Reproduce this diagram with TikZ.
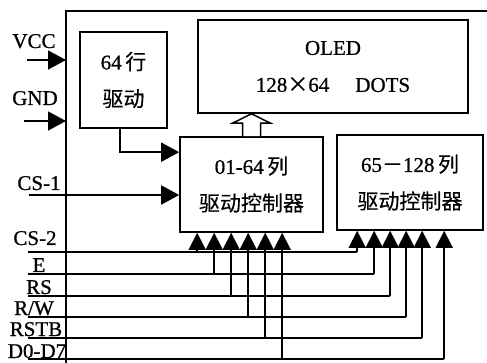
\documentclass[tikz,border=0pt]{standalone}
\usepackage{fontspec}
\setmainfont{Liberation Serif}[FakeBold=0.8]
\newfontfamily\cjk{Noto Sans CJK SC}[FakeBold=0.4]
\usetikzlibrary{arrows.meta,calc}
\begin{document}
\begin{tikzpicture}[x=1pt,y=-1pt,line width=1.6pt,
  box/.style={draw,rectangle,inner sep=0pt,align=center,font=\fontsize{21}{37}\selectfont},
  lbl/.style={inner sep=0pt,anchor=base,font=\fontsize{21}{24}\selectfont},
  arr/.style={-{Triangle[length=18pt,width=19pt]}},
  tap/.style={-{Triangle[length=17pt,width=17pt]}},
  hollow/.style={draw,fill=white,line width=1.5pt,line join=miter}]
\useasboundingbox[fill=white] (0,0) rectangle (487,363);

% frame
\coordinate (fT) at (66,11);
\coordinate (fB) at (66,363);
\coordinate (fR) at (487,11);
\draw[line width=2pt] (fR) -- (fT) -- (fB);

% boxes
\node[box,minimum width=87pt,minimum height=96pt] (row) at (123.5,80) {64\,{\cjk 行}\\{\cjk 驱动}};
\node[box,minimum width=270pt,minimum height=93pt] (oled) at (333,66.5) {OLED\\128{\cjk ×}64\hspace{26pt}DOTS};
\node[box,minimum width=143pt,minimum height=95pt] (c1) at (251.5,184.5) {01-64\,{\cjk 列}\\{\cjk 驱动控制器}};
\node[box,minimum width=146pt,minimum height=95pt] (c2) at (410,182.5) {65{\cjk －}128\,{\cjk 列}\\{\cjk 驱动控制器}};

% hollow arrow c1 -> oled
\coordinate (hb) at (c1.north);
\draw[hollow] ($(hb)+(-9,0)$) -- ($(hb)+(-9,-13)$) -- ($(hb)+(-19,-13)$) -- (hb |- oled.south) -- ($(hb)+(19,-13)$) -- ($(hb)+(9,-13)$) -- ($(hb)+(9,0)$);

% labels
\node[lbl] (vcc) at (34,48) {VCC};
\node[lbl] (gnd) at (35,105) {GND};
\node[lbl] (cs1) at (39,190) {CS-1};
\node[lbl] (cs2) at (35,245) {CS-2};
\node[lbl] (e) at (39,272) {E};
\node[lbl] (rs) at (39,294) {RS};
\node[lbl] (rw) at (34,315) {R/W};
\node[lbl] (rstb) at (36,336) {RSTB};
\node[lbl] (d07) at (37,358) {D0-D7};

% power inputs
\coordinate (vccs) at (27,60);
\coordinate (gnds) at (24,121);
\draw[arr] (vccs) -- (vccs -| fT);
\draw[arr] (gnds) -- (gnds -| fT);

% CS-1 and row driver
\coordinate (cs1s) at (29,195);
\draw[arr] (cs1s) -- (cs1s -| c1.west);
\coordinate (c1in) at ($(c1.north west)+(0,16)$);
\draw[arr] ([xshift=-3.5pt]row.south) |- (c1in);

% tap points
\coordinate (L1) at ($(c1.south west)+(18,0)$);
\coordinate (L2) at ($(c1.south west)+(35,0)$);
\coordinate (L3) at ($(c1.south west)+(52,0)$);
\coordinate (L4) at ($(c1.south west)+(69,0)$);
\coordinate (L5) at ($(c1.south west)+(86,0)$);
\coordinate (L6) at ($(c1.south west)+(103,0)$);
\coordinate (R1) at ($(c2.south west)+(21,0)$);
\coordinate (R2) at ($(c2.south west)+(38,0)$);
\coordinate (R3) at ($(c2.south west)+(54,0)$);
\coordinate (R4) at ($(c2.south west)+(70,0)$);
\coordinate (R5) at ($(c2.south west)+(86,0)$);
\coordinate (R6) at ($(c2.south west)+(108,0)$);

% bus starts
\coordinate (cs2s) at (28,252);
\coordinate (es) at (28,274);
\coordinate (rss) at (28,296);
\coordinate (rws) at (28,317);
\coordinate (rstbs) at (28,338);
\coordinate (ds) at (28,359);

\draw[line width=1.9pt] (cs2s) -- (cs2s -| R1);
\draw (es) -- (es -| R2);
\draw (rss) -- (rss -| R3);
\draw (rws) -- (rws -| R4);
\draw (rstbs) -- (rstbs -| R5);
\draw (ds) -- (ds -| R6);

\draw[tap] (L1 |- cs2s) -- (L1);
\draw[tap] (L2 |- es) -- (L2);
\draw[tap] (L3 |- rss) -- (L3);
\draw[tap] (L4 |- rws) -- (L4);
\draw[tap] (L5 |- rstbs) -- (L5);
\draw[tap] (L6 |- ds) -- (L6);
\draw[tap] (R1 |- cs2s) -- (R1);
\draw[tap] (R2 |- es) -- (R2);
\draw[tap] (R3 |- rss) -- (R3);
\draw[tap] (R4 |- rws) -- (R4);
\draw[tap] (R5 |- rstbs) -- (R5);
\draw[tap] (R6 |- ds) -- (R6);
\end{tikzpicture}
\end{document}
